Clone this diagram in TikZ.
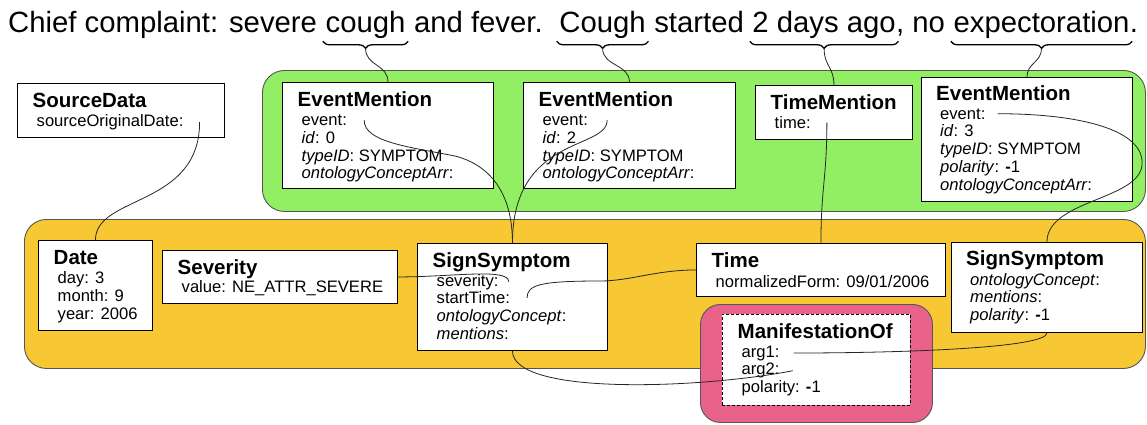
\documentclass[tikz,border=0pt]{standalone}
\usepackage{fontspec}
\setmainfont{Liberation Sans}
\usepackage{color}
\definecolor{mygreen}{RGB}{146,238,98}
\definecolor{myorange}{RGB}{247,199,52}
\definecolor{mypink}{RGB}{232,98,138}
\definecolor{myborder}{RGB}{85,85,85}
\usepackage{tikz}
\usetikzlibrary{calc,positioning,decorations.pathreplacing}
\tikzstyle{objbox}=[draw,fill=white,line width=0.9pt,rectangle,anchor=north west,inner sep=0pt]
\newcommand{\mone}{\textbf{-}1}

\begin{document}
\begin{tikzpicture}[
  x=1pt, y=1pt,
  grpbox/.style={draw=myborder,line width=0.9pt,rounded corners=22pt,anchor=north west,inner sep=0pt},
  sent/.style={anchor=base west,inner sep=0pt,font=\fontsize{29.3}{32}\selectfont},
  ttl/.style={anchor=base west,inner sep=0pt,font=\fontsize{20.5}{22}\selectfont\bfseries},
  attr/.style={anchor=base west,inner sep=0pt,font=\fontsize{16.6}{18}\selectfont},
  link/.style={draw=black!85,line width=0.8pt},
  brc/.style={decorate,decoration={brace,mirror,amplitude=7pt},line width=1.3pt}
]
\useasboundingbox (0,0) rectangle (1147,-424);

% the sentence
\node[sent] (s1) at (8,-32) {Chief complaint: severe};
\node[sent, base right=8.15pt of s1] (w1) {cough};
\node[sent, base right=8.15pt of w1] (s2) {and fever.};
\node[sent, base right=16.3pt of s2] (w2) {Cough};
\node[sent, base right=8.15pt of w2] (s3) {started};
\node[sent, base right=8.15pt of s3] (w3) {2 days ago};
\node[sent, base right=0pt of w3] (s4) {, no};
\node[sent, base right=8.15pt of s4] (w4) {expectoration};
\node[sent, base right=0pt of w4] (s5) {.};
\foreach \w in {w1,w2,w3,w4}
  \draw[brc] ([xshift=-2.5,yshift=-3]\w.south west) -- ([xshift=2.5,yshift=-3]\w.south east);

% groups
\node[grpbox, fill=mygreen, minimum width=883, minimum height=141] (grn) at (262,-70) {};
\node[grpbox, fill=myorange, minimum width=1121, minimum height=149] (org) at (24,-219) {};
\node[grpbox, fill=mypink, rounded corners=20pt, minimum width=232, minimum height=118] (pnk) at (700,-304) {};

% boxes
\node[objbox, minimum width=207, minimum height=54] (sd) at (17,-83) {};
\node[objbox, minimum width=211, minimum height=106] (em1) at (282,-82) {};
\node[objbox, minimum width=212, minimum height=106] (em2) at (523,-82) {};
\node[objbox, minimum width=157, minimum height=54] (tm) at (755,-85) {};
\node[objbox, minimum width=211, minimum height=124] (em3) at (921,-77) {};
\node[objbox, minimum width=114, minimum height=90] (date) at (38,-240) {};
\node[objbox, minimum width=235, minimum height=53] (sev) at (162,-250) {};
\node[objbox, minimum width=190, minimum height=107] (ss1) at (417,-243) {};
\node[objbox, minimum width=249, minimum height=53] (time) at (696,-243) {};
\node[objbox, minimum width=191, minimum height=90] (ss2) at (951,-242) {};
\node[objbox, dashed, dash pattern=on 3pt off 2pt, minimum width=188, minimum height=91] (mo) at (722,-314) {};

\foreach \Box/\Name in {sd/SourceData, em1/EventMention, em2/EventMention, tm/TimeMention,
    date/Date, sev/Severity, ss1/SignSymptom, time/Time, mo/ManifestationOf}
  \node[ttl] (\Box-t) at ([xshift=15.5,yshift=-24.5]\Box.north west) {\Name};
\foreach \Box/\Name in {em3/EventMention, ss2/SignSymptom}
  \node[ttl] (\Box-t) at ([xshift=15,yshift=-23]\Box.north west) {\Name};

% attributes
\foreach \Txt [count=\i] in {sourceOriginalDate:}
  \node[attr] (sd-\i) at ([xshift=4,yshift={-19-17.8*(\i-1)}]sd-t.base west) {\Txt};
\foreach \Txt [count=\i] in {event:,\textit{id}: 0,\textit{typeID}: SYMPTOM,\textit{ontologyConceptArr}:}
  \node[attr] (em1-\i) at ([xshift=4,yshift={-19-17.8*(\i-1)}]em1-t.base west) {\Txt};
\foreach \Txt [count=\i] in {event:,\textit{id}: 2,\textit{typeID}: SYMPTOM,\textit{ontologyConceptArr}:}
  \node[attr] (em2-\i) at ([xshift=4,yshift={-19-17.8*(\i-1)}]em2-t.base west) {\Txt};
\foreach \Txt [count=\i] in {time:}
  \node[attr] (tm-\i) at ([xshift=4,yshift={-19-17.8*(\i-1)}]tm-t.base west) {\Txt};
\foreach \Txt [count=\i] in {event:,\textit{id}: 3,\textit{typeID}: SYMPTOM,\textit{polarity}: \mone,\textit{ontologyConceptArr}:}
  \node[attr] (em3-\i) at ([xshift=4,yshift={-19-17.8*(\i-1)}]em3-t.base west) {\Txt};
\foreach \Txt [count=\i] in {day: 3,month: 9,year: 2006}
  \node[attr] (date-\i) at ([xshift=4,yshift={-19-17.8*(\i-1)}]date-t.base west) {\Txt};
\foreach \Txt [count=\i] in {value: NE\_ATTR\_SEVERE}
  \node[attr] (sev-\i) at ([xshift=4,yshift={-18-17.8*(\i-1)}]sev-t.base west) {\Txt};
\foreach \Txt [count=\i] in {severity:,startTime:,\textit{ontologyConcept}:,\textit{mentions}:}
  \node[attr] (ss1-\i) at ([xshift=4,yshift={-18.5-17.8*(\i-1)}]ss1-t.base west) {\Txt};
\foreach \Txt [count=\i] in {normalizedForm: 09/01/2006}
  \node[attr] (time-\i) at ([xshift=4,yshift={-19.5-17.8*(\i-1)}]time-t.base west) {\Txt};
\foreach \Txt [count=\i] in {\textit{ontologyConcept}:,\textit{mentions}:,\textit{polarity}: \mone}
  \node[attr] (ss2-\i) at ([xshift=4,yshift={-20-17.8*(\i-1)}]ss2-t.base west) {\Txt};
\foreach \Txt [count=\i] in {arg1:,arg2:,polarity: \mone}
  \node[attr] (mo-\i) at ([xshift=4,yshift={-18.5-17.8*(\i-1)}]mo-t.base west) {\Txt};

% from the words
\draw[link] ([yshift=-10]w1.south) .. controls +(0,-18) and +(0,18) .. (em1.north);
\draw[link] ([yshift=-10]w2.south) .. controls +(0,-18) and +(0,18) .. (em2.north);
\draw[link] ([yshift=-10]w3.south) .. controls +(0,-18) and +(0,18) .. (tm.north);
\draw[link] ([yshift=-10]w4.south) .. controls +(0,-14) and +(0,14) .. (em3.north);

% references
\draw[link] ([xshift=16]sd-1.east) .. controls +(0,-85) and +(0,45) .. (date.north);
\draw[link] ([xshift=17]em1-1.east) .. controls +(0,-22) and +(-45,9) .. (455,-156)
  .. controls +(35,-9) and +(0,50) .. (ss1.north);
\draw[link] ([xshift=19]em2-1.east) .. controls +(0,-30) and +(0,108) .. (ss1.north);
\draw[link] ([xshift=16]tm-1.east) .. controls +(0,-55) and +(0,55) .. (time.north);
\draw[link] ([xshift=12]em3-1.east) .. controls +(83,0) and +(3,35) .. (1142,-165)
  .. controls +(-3,-35) and +(0,42) .. (ss2.north);
\draw[link] (sev.east) .. controls +(55,0) and +(0,14) .. ([xshift=10]ss1-1.east);
\draw[link] (time.west) .. controls +(-40,0) and +(30,0) .. (600,-281)
  .. controls +(-60,0) and +(0,13) .. ([xshift=17]ss1-2.east);
\draw[link] (ss2.south) .. controls +(0,-15) and +(110,0) .. ([xshift=14]mo-1.east);
\draw[link] (ss1.south) .. controls +(0,-45) and +(-92,-18) .. ([xshift=13]mo-2.east);

\end{tikzpicture}
\end{document}
